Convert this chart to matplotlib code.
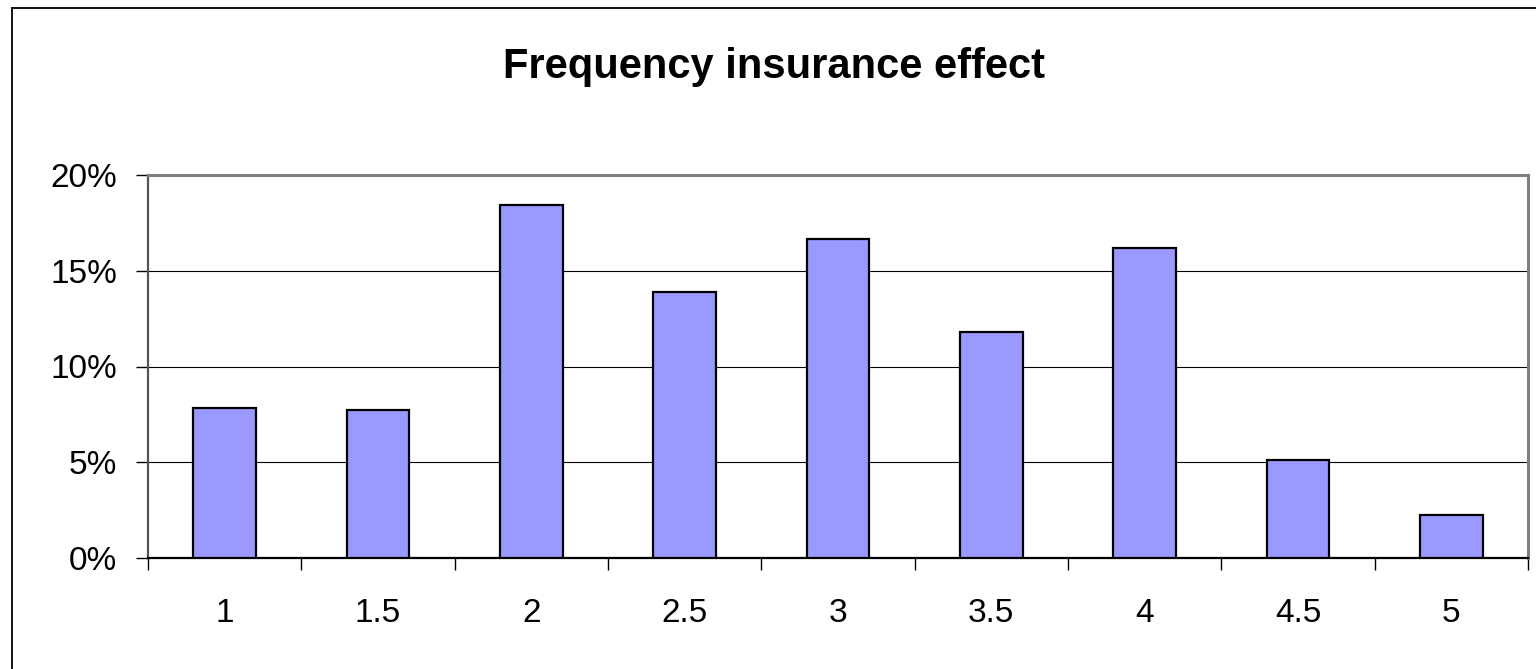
import matplotlib
matplotlib.use("Agg")
import matplotlib.pyplot as plt
from matplotlib.lines import Line2D
from matplotlib.ticker import FuncFormatter, FixedLocator, NullFormatter

categories = ["1", "1.5", "2", "2.5", "3", "3.5", "4", "4.5", "5"]
values = [7.83, 7.73, 18.43, 13.89, 16.66, 11.80, 16.19, 5.12, 2.25]
yticks = [0, 5, 10, 15, 20]
title = "Frequency insurance effect"

plt.rcParams['font.family'] = ['Liberation Sans', 'DejaVu Sans']

W, H = 1536, 669
fig = plt.figure(figsize=(W / 100, H / 100), dpi=100)
ax = fig.add_axes([148 / W, 1 - 558 / H, (1528 - 148) / W, (558 - 175) / H])

x = list(range(len(categories)))
ax.bar(x, values, width=0.41, color="#9999FF", edgecolor="black", linewidth=1.6, zorder=3)

ax.set_xlim(-0.5, len(categories) - 0.5)
ax.set_ylim(0, 20)
ax.set_yticks(yticks)
ax.yaxis.set_major_formatter(FuncFormatter(lambda v, p: f"{int(v)}%"))
ax.yaxis.grid(True, color="black", linewidth=0.8, zorder=0)

ax.set_xticks(x)
ax.set_xticklabels(categories)
ax.tick_params(axis="x", which="major", length=0, pad=28.5, labelsize=24)
ax.xaxis.set_minor_locator(FixedLocator([i - 0.5 for i in range(len(categories) + 1)]))
ax.xaxis.set_minor_formatter(NullFormatter())
ax.tick_params(axis="x", which="minor", length=8.6, width=1, color="black", direction="out")
ax.tick_params(axis="y", length=8.6, width=1, color="black", direction="out", pad=13.5, labelsize=24)

for s in ["top", "right"]:
    ax.spines[s].set_color("#808080")
    ax.spines[s].set_linewidth(2.2)
ax.spines["left"].set_color("#555555")
ax.spines["left"].set_linewidth(1.6)
ax.spines["bottom"].set_color("black")
ax.spines["bottom"].set_linewidth(1.6)

fig.text(774 / W, 1 - 78 / H, title, ha="center", va="baseline", fontsize=30, fontweight="bold")

# outer chart-area border (left and top edges visible)
fig.add_artist(Line2D([11.5 / W, 11.5 / W], [0, 1 - 7.5 / H], transform=fig.transFigure,
                      color="black", linewidth=1.3))
fig.add_artist(Line2D([11.5 / W, 1], [1 - 7.5 / H, 1 - 7.5 / H], transform=fig.transFigure,
                      color="black", linewidth=1.3))

fig.savefig("out.png", dpi=100)
